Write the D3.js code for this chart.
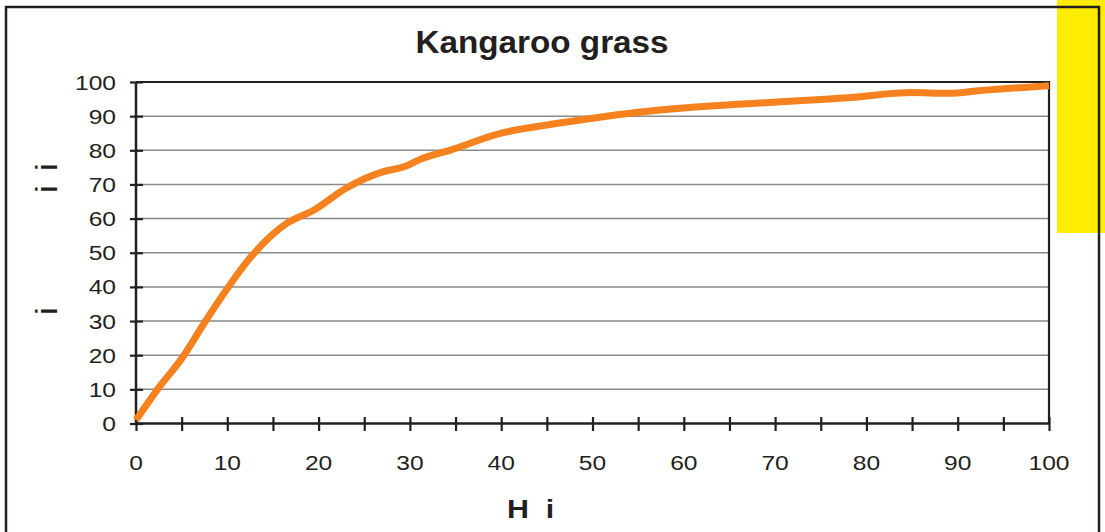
<!DOCTYPE html>
<html>
<head>
<meta charset="utf-8">
<script src="https://cdn.jsdelivr.net/npm/d3@7"></script>
<style>
html,body{margin:0;padding:0;background:#fff;}
svg{display:block;}
text{font-family:"Liberation Sans",Arial,Helvetica,sans-serif;fill:#231f20;}
</style>
</head>
<body>
<svg id="chart" width="1105" height="532"></svg>
<script>
// ---- data ----
const titleText = "Kangaroo grass";
const xTitleText = "H  i";
const yTitleParts = ["i", "i", "i"];
const xValues = [0, 2.5, 5, 7.5, 10, 12.5, 16.5, 19.5, 23, 27, 29.5, 31, 34.5, 40, 45, 50, 54.5, 60, 70, 78, 85, 89, 92.5, 100];
const yValues = [1, 10.5, 19, 29.5, 39.5, 48.5, 58.6, 62.5, 68.9, 73.7, 75.3, 77.2, 80.1, 85, 87.4, 89.4, 91, 92.4, 94.1, 95.4, 96.9, 96.7, 97.5, 98.9];
const xTickLabels = [0, 10, 20, 30, 40, 50, 60, 70, 80, 90, 100];
const xMinorTicks = d3.range(0, 101, 5);
const yTickLabels = [0, 10, 20, 30, 40, 50, 60, 70, 80, 90, 100];

const svg = d3.select("#chart");
const dark = "#231f20";

const x = d3.scaleLinear().domain([0, 100]).range([136, 1049]);
const y = d3.scaleLinear().domain([0, 100]).range([423.5, 82]);

// yellow tab
svg.append("rect").attr("x", 1057).attr("y", 0).attr("width", 48).attr("height", 233).attr("fill", "#ffed00");
// outer frame
svg.append("rect").attr("x", 6).attr("y", 7).attr("width", 1093).attr("height", 560)
  .attr("fill", "none").attr("stroke", dark).attr("stroke-width", 2.5);

// gridlines
svg.append("g").selectAll("line").data(yTickLabels.filter(d => d > 0 && d < 100)).join("line")
  .attr("x1", x(0)).attr("x2", x(100)).attr("y1", d => y(d)).attr("y2", d => y(d))
  .attr("stroke", "#8a8a8a").attr("stroke-width", 1.5);

// plot border top and right
svg.append("line").attr("x1", x(0)).attr("x2", x(100)).attr("y1", y(100)).attr("y2", y(100))
  .attr("stroke", dark).attr("stroke-width", 2.2);
svg.append("line").attr("x1", x(100)).attr("x2", x(100)).attr("y1", y(100) - 1).attr("y2", y(0))
  .attr("stroke", dark).attr("stroke-width", 2.2);

// axes
const yAxis = d3.axisLeft(y).tickValues(yTickLabels).tickSize(13).tickFormat("");
const gy = svg.append("g").attr("transform", `translate(${x(0) + 7},0)`).call(yAxis);
gy.select(".domain").remove();
gy.selectAll(".tick line").attr("stroke", dark).attr("stroke-width", 2.2);
svg.append("line").attr("x1", x(0)).attr("x2", x(0)).attr("y1", y(100)).attr("y2", y(0) + 1)
  .attr("stroke", dark).attr("stroke-width", 2.5);

const xAxis = d3.axisBottom(x).tickValues(xMinorTicks).tickSize(14).tickFormat("");
const gx = svg.append("g").attr("transform", `translate(0,${y(0) - 6.5})`).call(xAxis);
gx.select(".domain").remove();
gx.selectAll(".tick line").attr("stroke", dark).attr("stroke-width", 2.2);
svg.append("line").attr("x1", x(0) - 1).attr("x2", x(100) + 1).attr("y1", y(0)).attr("y2", y(0))
  .attr("stroke", dark).attr("stroke-width", 2.5);

// tick labels
svg.append("g").selectAll("text").data(yTickLabels).join("text")
  .attr("transform", d => `translate(116,${y(d) + 7.5}) scale(1.2,1)`)
  .attr("text-anchor", "end").attr("font-size", 20.5).text(d => d);
svg.append("g").selectAll("text").data(xTickLabels).join("text")
  .attr("transform", d => `translate(${x(d)},470) scale(1.2,1)`)
  .attr("text-anchor", "middle").attr("font-size", 20.5).text(d => d);

// line
const pts = xValues.map((v, i) => [v, yValues[i]]);
const line = d3.line().x(d => x(d[0])).y(d => y(d[1])).curve(d3.curveMonotoneX);
svg.append("path").datum(pts).attr("d", line).attr("fill", "none")
  .attr("stroke", "#f5821f").attr("stroke-width", 7).attr("stroke-linejoin", "round");

// title
svg.append("text").attr("transform", "translate(542,53) scale(1.04,1)").attr("text-anchor", "middle")
  .attr("font-size", 32).attr("font-weight", "bold").text(titleText);

// x title
svg.append("text").attr("transform", "translate(507,518) scale(1.17,1)").attr("text-anchor", "start")
  .attr("font-size", 26).attr("font-weight", "bold").attr("xml:space", "preserve")
  .style("white-space", "pre").text(xTitleText);

// y title parts
const yTitlePos = [167, 189, 311];
svg.append("g").selectAll("text").data(yTitleParts).join("text")
  .attr("transform", (d, i) => `translate(57,${yTitlePos[i]}) rotate(-90) scale(1.25,1)`)
  .attr("text-anchor", "middle").attr("dy", "0").attr("font-size", 30).text(d => d);
</script>
</body>
</html>
